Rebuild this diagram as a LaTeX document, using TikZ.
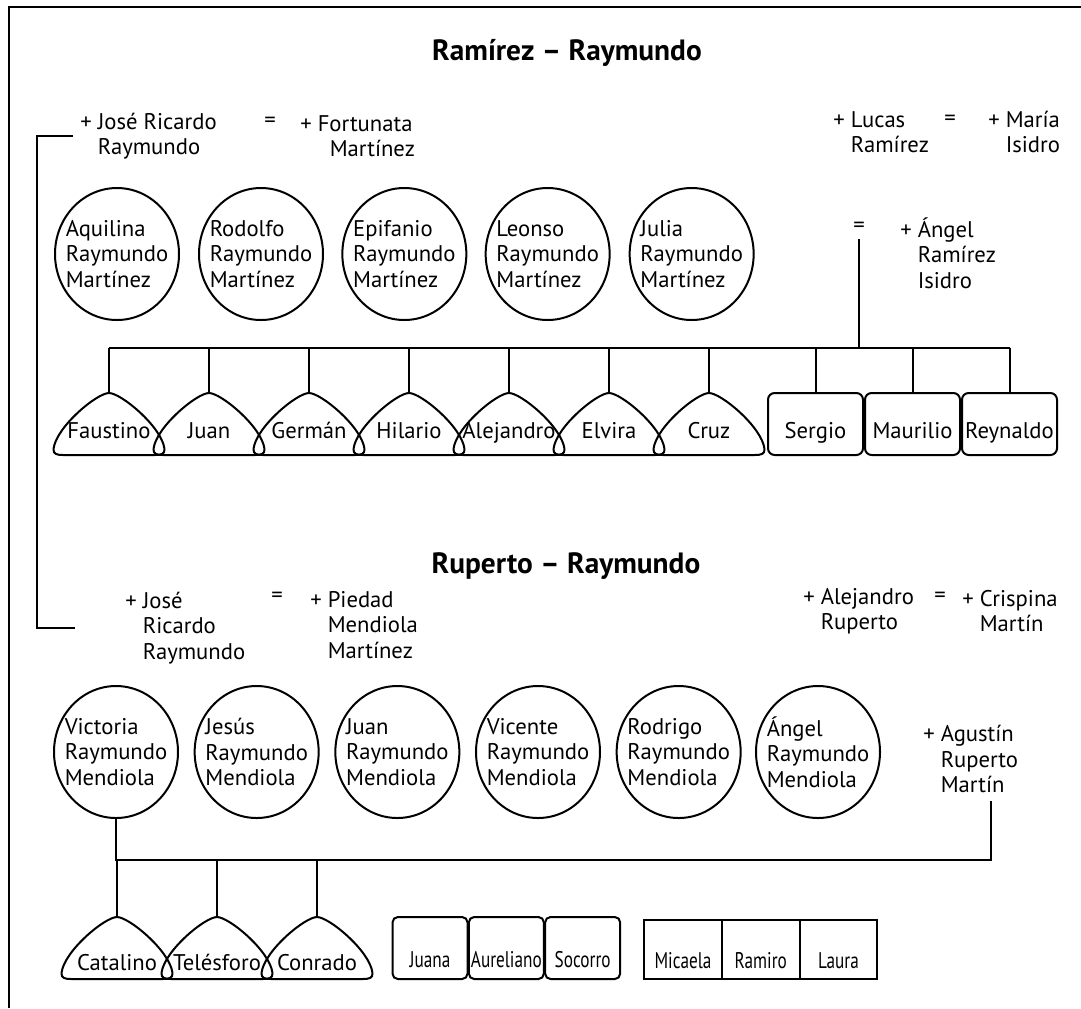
\documentclass[tikz,border=0pt]{standalone}
\usepackage{fontspec}
\setmainfont{PT Sans}
\newfontfamily\narrowfont[FakeStretch=0.76]{PT Sans}
\usetikzlibrary{positioning,shapes.geometric}

\newcommand{\namefont}{\fontsize{17}{19}\selectfont}
\newcommand{\pl}{+\ }
\newcommand{\sk}{\hphantom{+\ }}

\tikzset{
  line/.style={line width=1.5pt},
  title/.style={
    inner sep=0pt,
    font=\fontsize{22}{25}\selectfont\bfseries
  },
  spouse/.style={
    anchor=west,
    align=left,
    inner sep=0pt,
    font=\namefont
  },
  eq/.style={inner sep=0pt, font=\namefont},
  person/.style={
    draw,
    ellipse,
    line width=1.5pt,
    minimum width=93pt,
    minimum height=99pt,
    inner sep=-16pt,
    align=left,
    font=\namefont
  },
  kid/.style={
    draw,
    rectangle,
    rounded corners=5pt,
    line width=1.5pt,
    minimum width=71.25pt,
    text height=33.75pt,
    text depth=12.75pt,
    inner xsep=0pt,
    inner ysep=0pt,
    outer sep=0pt,
    font=\namefont
  },
  smallkid/.style={
    kid,
    rounded corners=4pt,
    minimum width=56.25pt,
    text height=37.5pt,
    text depth=9pt,
    font=\narrowfont\namefont
  },
  box/.style={
    draw,
    rectangle,
    line width=1.5pt,
    minimum width=58.3pt,
    text height=36pt,
    text depth=8.25pt,
    inner xsep=0pt,
    inner ysep=0pt,
    outer sep=0pt,
    font=\narrowfont\namefont
  },
  archline/.style={
    line width=1.5pt,
    line join=round,
    to path={
      ([shift={(-46,0)}]\tikztostart)
      .. controls ([shift={(-52,0)}]\tikztostart) and ([shift={(-56,-1)}]\tikztostart) .. ([shift={(-55.5,-6)}]\tikztostart)
      .. controls ([shift={(-53,-28)}]\tikztostart) and ([shift={(-12,0)}]\tikztotarget) .. (\tikztotarget)
      .. controls ([shift={(12,0)}]\tikztotarget) and ([shift={(53,-28)}]\tikztostart) .. ([shift={(55.5,-6)}]\tikztostart)
      .. controls ([shift={(56,-1)}]\tikztostart) and ([shift={(52,0)}]\tikztostart) .. ([shift={(46,0)}]\tikztostart)
      -- cycle
    }
  },
  arch/.style={
    minimum width=84pt,
    text height=33.75pt,
    text depth=12.75pt,
    inner sep=0pt,
    outer sep=0pt,
    font=\namefont,
    append after command={
      (\tikzlastnode.south) edge[archline] (\tikzlastnode.north)
    }
  }
}

\begin{document}
\begin{tikzpicture}[x=0.75pt,y=-0.75pt]
  \useasboundingbox (0,0) rectangle (1081,1008);
  \draw[line width=2.2pt] (9,1008) -- (9,7) -- (1081,7);

  % Ramirez - Raymundo
  \node[title] (title1) at (567,53) {Ramírez – Raymundo};

  \node[spouse] (jose1) at (80,136) {\pl José Ricardo\\\sk Raymundo};
  \node[eq] (eq1) at (270,122) {=};
  \node[spouse] (fortunata) at (300,136) {\pl Fortunata\\\sk\hspace{9pt}Martínez};

  \node[spouse] (lucas) at (833,132) {\pl Lucas\\\sk Ramírez};
  \node[eq] (eq2) at (950,120) {=};
  \node[spouse] (maria) at (988,132) {\pl María\\\sk Isidro};

  \node[eq] (eq3) at (859,227) {=};
  \node[spouse] (angel) at (900,253) {\pl Ángel\\\sk Ramírez\\\sk Isidro};

  % children of Jose Ricardo and Fortunata
  \node[person] (aquilina) at (117,254) {Aquilina\\Raymundo\\Martínez};
  \node[person, right=13.5pt of aquilina] (rodolfo) {Rodolfo\\Raymundo\\Martínez};
  \node[person, right=13pt of rodolfo] (epifanio) {Epifanio\\Raymundo\\Martínez};
  \node[person, right=13pt of epifanio] (leonso) {Leonso\\Raymundo\\Martínez};
  \node[person, right=13.5pt of leonso] (julia) {Julia\\Raymundo\\Martínez};

  % grandchildren
  \node[arch] (faustino) at (109,424) {Faustino};
  \node[arch, right=-9pt of faustino] (juan) {Juan};
  \node[arch, right=-9pt of juan] (german) {Germán};
  \node[arch, right=-9pt of german] (hilario) {Hilario};
  \node[arch, right=-9pt of hilario] (alejandro1) {Alejandro};
  \node[arch, right=-9pt of alejandro1] (elvira) {Elvira};
  \node[arch, right=-9pt of elvira] (cruz) {Cruz};

  \node[kid] (sergio) at (815.5,424) {Sergio};
  \node[kid, right=1.5pt of sergio] (maurilio) {Maurilio};
  \node[kid, right=1.5pt of maurilio] (reynaldo) {Reynaldo};

  \coordinate (bar) at (0,348);
  \draw[line] (faustino.north |- bar) -- (reynaldo.north |- bar);
  \draw[line] (eq3.south) ++(0,7) -- (eq3.south |- bar);
  \draw[line] (faustino.north |- bar) -- (faustino.north);
  \draw[line] (juan.north |- bar) -- (juan.north);
  \draw[line] (german.north |- bar) -- (german.north);
  \draw[line] (hilario.north |- bar) -- (hilario.north);
  \draw[line] (alejandro1.north |- bar) -- (alejandro1.north);
  \draw[line] (elvira.north |- bar) -- (elvira.north);
  \draw[line] (cruz.north |- bar) -- (cruz.north);
  \draw[line] (sergio.north |- bar) -- (sergio.north);
  \draw[line] (maurilio.north |- bar) -- (maurilio.north);
  \draw[line] (reynaldo.north |- bar) -- (reynaldo.north);

  % Ruperto - Raymundo
  \node[title] (title2) at (566,566) {Ruperto – Raymundo};

  \node[spouse] (jose2) at (125,628) {\pl José\\\sk Ricardo\\\sk Raymundo};
  \node[eq] (eq4) at (277,597) {=};
  \node[spouse] (piedad) at (310,625) {\pl Piedad\\\sk Mendiola\\\sk Martínez};

  \node[spouse] (alejandro2) at (803,611) {\pl Alejandro\\\sk Ruperto};
  \node[eq] (eq5) at (940,597) {=};
  \node[spouse] (crispina) at (962,611) {\pl Crispina\\\sk Martín};

  \draw[line] (jose1.west) ++(-7,0) -- ++(-36,0) |- ([shift={(-50,0)}]jose2.west);

  % children of Jose Ricardo and Piedad
  \node[person] (victoria) at (116,752) {Victoria\\Raymundo\\Mendiola};
  \node[person, right=11pt of victoria] (jesus) {Jesús\\Raymundo\\Mendiola};
  \node[person, right=11pt of jesus] (juan2) {Juan\\Raymundo\\Mendiola};
  \node[person, right=11pt of juan2] (vicente) {Vicente\\Raymundo\\Mendiola};
  \node[person, right=11pt of vicente] (rodrigo) {Rodrigo\\Raymundo\\Mendiola};
  \node[person, right=10pt of rodrigo] (angel2) {Ángel\\Raymundo\\Mendiola};

  \node[spouse] (agustin) at (923,759) {\pl Agustín\\\sk Ruperto\\\sk Martín};

  % grandchildren
  \node[arch, text height=39.75pt, text depth=6.75pt] (catalino) at (117,948) {Catalino};
  \node[arch, text height=39.75pt, text depth=6.75pt, right=-9pt of catalino] (telesforo) {Telésforo};
  \node[arch, text height=39.75pt, text depth=6.75pt, right=-9pt of telesforo] (conrado) {Conrado};

  \node[smallkid] (juana) at (430,948) {Juana};
  \node[smallkid, right=1pt of juana] (aureliano) {Aureliano};
  \node[smallkid, right=1pt of aureliano] (socorro) {Socorro};

  \node[box] (micaela) at (683,949.5) {Micaela};
  \node[box, right=0pt of micaela] (ramiro) {Ramiro};
  \node[box, right=0pt of ramiro] (laura) {Laura};

  \coordinate (bar2) at (0,860);
  \coordinate (agu) at ([shift={(20,8)}]agustin.south);
  \draw[line] (victoria.south) |- (agu |- bar2) -- (agu);
  \draw[line] (catalino.north |- bar2) -- (catalino.north);
  \draw[line] (telesforo.north |- bar2) -- (telesforo.north);
  \draw[line] (conrado.north |- bar2) -- (conrado.north);

\end{tikzpicture}
\end{document}
